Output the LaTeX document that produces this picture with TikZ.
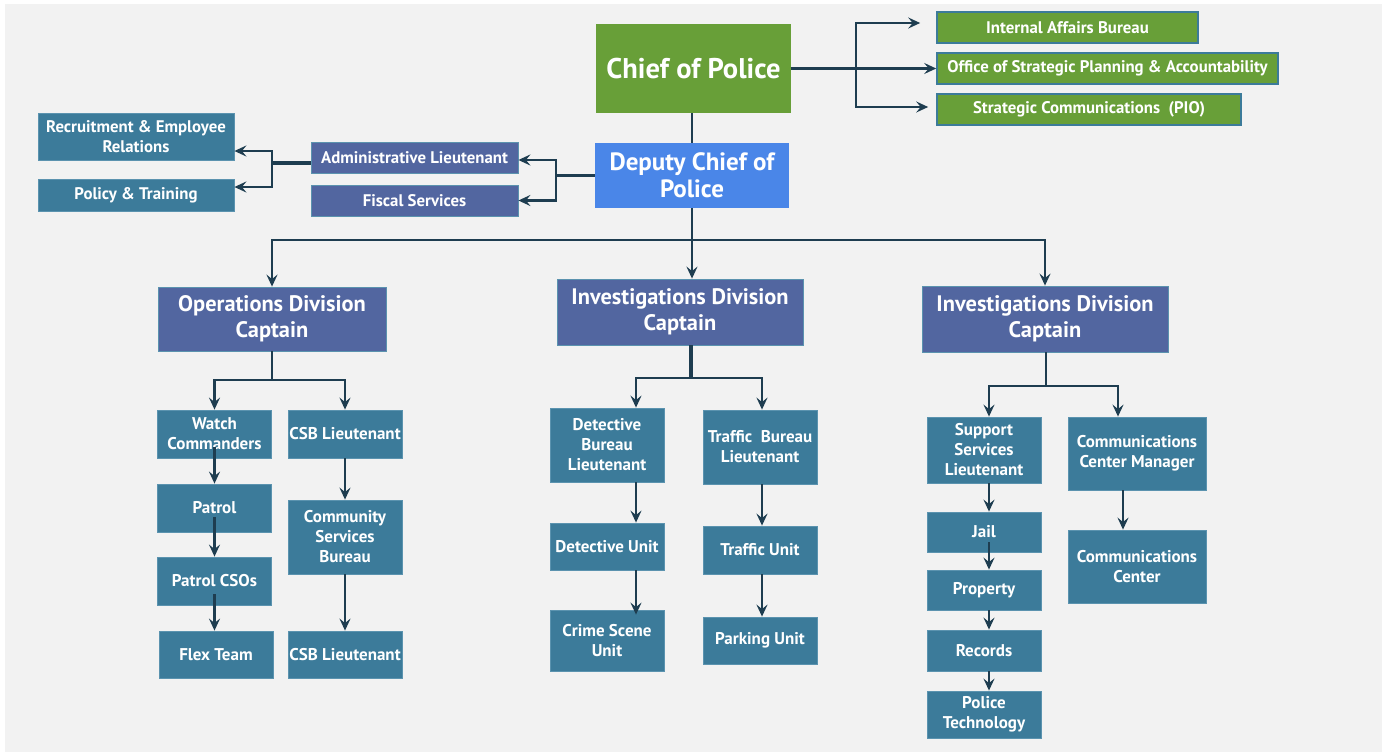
\documentclass[tikz,border=0pt]{standalone}
\usepackage{fontspec}
\setmainfont{PT Sans}
\usetikzlibrary{arrows.meta}
\definecolor{chiefgreen}{HTML}{689F38}
\definecolor{deputyblue}{HTML}{4A86E8}
\definecolor{slateblue}{HTML}{5266A0}
\definecolor{unitteal}{HTML}{3C7B9A}
\definecolor{unitedge}{HTML}{5B93AF}
\definecolor{wirecol}{HTML}{1E3D50}
\definecolor{paper}{HTML}{F2F2F2}

\begin{document}
\begin{tikzpicture}[x=1pt,y=-1pt,
  box/.style={text=white,align=center,inner sep=1pt},
  topbox/.style={box,fill=#1,font=\bfseries\fontsize{25}{27}\selectfont},
  officebox/.style={box,fill=chiefgreen,draw=unitteal,line width=1.6pt,minimum height=31pt,font=\bfseries\fontsize{16.8}{20}\selectfont},
  staffbox/.style={box,fill=#1,draw=unitedge,line width=0.8pt,font=\bfseries\fontsize{16.8}{20}\selectfont},
  divbox/.style={box,fill=slateblue,draw=unitedge,line width=0.8pt,minimum height=66pt,font=\bfseries\fontsize{22.4}{26}\selectfont},
  unitbox/.style={box,fill=unitteal,draw=unitedge,line width=0.8pt,minimum width=114pt,font=\bfseries\fontsize{17}{20}\selectfont},
  wire/.style={draw=wirecol,line width=2.4pt},
  arrowwire/.style={wire,-{Stealth[length=12pt,width=11pt,inset=4.5pt]}}]

\useasboundingbox (0,0) rectangle (1382,752);
\fill[white] (0,0) rectangle (1382,752);
\fill[paper] (5,4) rectangle (1382,752);

\node[topbox=chiefgreen,minimum width=195pt,minimum height=89pt,font=\bfseries\fontsize{28.5}{32}\selectfont] (chief) at (693.5,68.5) {Chief of Police};
\node[topbox=deputyblue,minimum width=194pt,minimum height=65pt] (deputy) at (692,175.5) {Deputy Chief of\\Police};

\node[officebox,minimum width=261pt] (iab) at (1067.5,27.5) {Internal Affairs Bureau};
\node[officebox,minimum width=341pt] (ospa) at (1107.5,68.5) {Office of Strategic Planning \& Accountability};
\node[officebox,minimum width=304pt] (pio) at (1089,109.5) {Strategic Communications~~(PIO)};

\node[staffbox=slateblue,minimum width=207pt,minimum height=31pt] (admin) at (414.5,157.5) {Administrative Lieutenant};
\node[staffbox=slateblue,minimum width=207pt,minimum height=31pt] (fiscal) at (414.5,200.5) {Fiscal Services};
\node[staffbox=unitteal,minimum width=196pt,minimum height=47pt] (recruit) at (136,136.5) {Recruitment \& Employee\\Relations};
\node[staffbox=unitteal,minimum width=196pt,minimum height=32pt] (policy) at (136,195) {Policy \& Training};

\node[divbox,minimum width=228pt,minimum height=64pt] (ops) at (272,319) {Operations Division\\Captain};
\node[divbox,minimum width=246pt] (inv1) at (680,312) {Investigations Division\\Captain};
\node[divbox,minimum width=246pt] (inv2) at (1045,319) {Investigations Division\\Captain};

\node[unitbox,minimum height=48pt] (wc) at (214.5,434) {Watch\\Commanders};
\node[unitbox,minimum height=48pt] (patrol) at (214.5,508) {Patrol};
\node[unitbox,minimum height=48pt] (pcso) at (214.5,581) {Patrol CSOs};
\node[unitbox,minimum height=47pt] (flex) at (216,654.5) {Flex Team};
\node[unitbox,minimum height=48pt] (csb1) at (345,434) {CSB Lieutenant};
\node[unitbox,minimum height=74pt] (csbb) at (345,537) {Community\\Services\\Bureau};
\node[unitbox,minimum height=47pt] (csb2) at (345,654.5) {CSB Lieutenant};

\node[unitbox,minimum height=74pt] (dbl) at (607,445) {Detective\\Bureau\\Lieutenant};
\node[unitbox,minimum height=47pt] (du) at (607,546.5) {Detective Unit};
\node[unitbox,minimum height=61pt] (csu) at (607,640.5) {Crime Scene\\Unit};
\node[unitbox,minimum height=74pt] (tbl) at (760,447) {Traffic~~Bureau\\Lieutenant};
\node[unitbox,minimum height=48pt] (tu) at (760,550) {Traffic Unit};
\node[unitbox,minimum height=47pt] (pu) at (760,640.5) {Parking Unit};

\node[unitbox,minimum height=66pt] (ssl) at (984,450) {Support\\Services\\Lieutenant};
\node[unitbox,minimum height=40pt] (jail) at (984,532) {Jail};
\node[unitbox,minimum height=40pt] (prop) at (984,590) {Property};
\node[unitbox,minimum height=41pt] (records) at (984,650.5) {Records};
\node[unitbox,minimum height=47pt] (ptech) at (984,714.5) {Police\\Technology};
\node[unitbox,minimum width=138pt,minimum height=73pt] (ccm) at (1137,453.5) {Communications\\Center Manager};
\node[unitbox,minimum width=138pt,minimum height=73pt] (cc) at (1137,566.5) {Communications\\Center};

\draw[wire] (deputy.north |- chief.south) -- (deputy.north);
\coordinate (cj) at (856,68.5);
\draw[wire] (chief.east) -- (cj);
\draw[arrowwire,shorten >=16pt] (cj) |- ([yshift=4.5pt]iab.west);
\draw[arrowwire] (cj) -- (ospa.west);
\draw[arrowwire,shorten >=8pt] (cj) |- ([yshift=2.5pt]pio.west);

\coordinate (dj) at (556,175.5);
\draw[wire] (deputy.west) -- (dj);
\draw[arrowwire] (dj) |- ([yshift=-2.5pt]admin.east);
\draw[arrowwire] (dj) |- (fiscal.east);
\coordinate (aj) at (272,163);
\draw[wire,line width=3.5pt] ([yshift=-5.5pt]admin.west) -- (aj);
\draw[arrowwire] (aj) |- ([yshift=-14.5pt]recruit.east);
\draw[arrowwire] (aj) |- ([yshift=8pt]policy.east);

\coordinate (bus) at (692,240);
\draw[wire] (deputy.south) -- (bus);
\draw[arrowwire] (bus) -| (ops.north);
\draw[arrowwire] (bus) -| (inv2.north);
\draw[arrowwire] (bus) -- (bus |- inv1.north);

\coordinate (oj) at (272,380);
\draw[wire] (ops.south) -- (oj);
\draw[arrowwire] (oj) -| (wc.north);
\draw[arrowwire] (oj) -| (csb1.north);
\draw[arrowwire] ([yshift=-13pt]wc.center) -- (patrol.north);
\draw[arrowwire] ([yshift=-9pt]patrol.center) -- (pcso.north);
\draw[arrowwire] ([yshift=-13pt]pcso.center) -- (pcso.center |- flex.north);
\draw[arrowwire] (csb1.south) -- (csbb.north);
\draw[arrowwire] (csbb.south) -- (csb2.north);

\coordinate (mj) at (691,378);
\draw[wire,line width=3.5pt] (mj |- inv1.south) -- (mj);
\draw[arrowwire] (mj) -| ([xshift=29pt]dbl.north);
\draw[arrowwire] (mj) -| ([xshift=2pt]tbl.north);
\draw[arrowwire] ([xshift=29pt]dbl.south) -- ([xshift=29pt]du.north);
\draw[arrowwire] ([xshift=29pt]du.south) -- ([xshift=29pt,yshift=-5pt]csu.north);
\draw[arrowwire] ([xshift=2pt]tbl.south) -- ([xshift=2pt]tu.north);
\draw[arrowwire] ([xshift=2pt]tu.south) -- ([xshift=2pt]pu.north);

\coordinate (rj) at (1046,386);
\draw[wire] (rj |- inv2.south) -- (rj);
\draw[arrowwire] (rj) -| ([xshift=5pt]ssl.north);
\draw[arrowwire] (rj) -| ([xshift=-19pt]ccm.north);
\draw[arrowwire] ([xshift=5pt]ssl.south) -- ([xshift=5pt]jail.north);
\draw[arrowwire] ([xshift=5pt,yshift=-10pt]jail.center) -- ([xshift=5pt]prop.north);
\draw[arrowwire] ([xshift=5pt]prop.south) -- ([xshift=5pt]records.north);
\draw[arrowwire] ([xshift=5pt]records.south) -- ([xshift=5pt]ptech.north);
\draw[arrowwire] ([xshift=-14pt]ccm.south) -- ([xshift=-14pt]cc.north);
\end{tikzpicture}
\end{document}
